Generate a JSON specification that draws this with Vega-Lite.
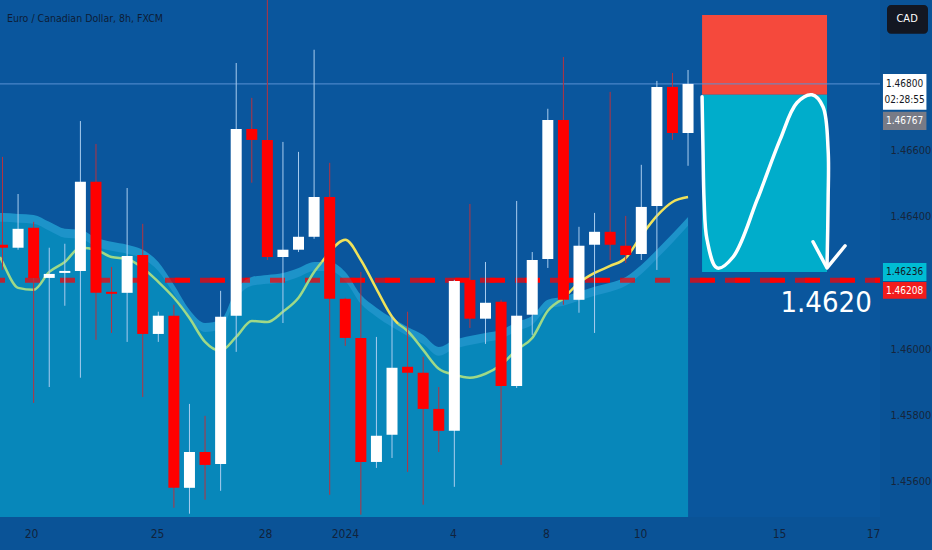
{
  "$schema": "https://vega.github.io/schema/vega-lite/v6.json",
  "width": 880,
  "height": 517,
  "autosize": {"type": "none"},
  "padding": {"left": 0, "top": 0, "right": 52, "bottom": 33},
  "background": "#0a5397",
  "datasets": {
    "candles": [
      {"i": 0, "o": 1.46315, "h": 1.46580, "l": 1.46239, "c": 1.46306},
      {"i": 1, "o": 1.46306, "h": 1.46468, "l": 1.46300, "c": 1.46363},
      {"i": 2, "o": 1.46366, "h": 1.46384, "l": 1.45838, "c": 1.46215},
      {"i": 3, "o": 1.46215, "h": 1.46306, "l": 1.45886, "c": 1.46227},
      {"i": 4, "o": 1.46230, "h": 1.46318, "l": 1.46131, "c": 1.46236},
      {"i": 5, "o": 1.46236, "h": 1.46688, "l": 1.45914, "c": 1.46505},
      {"i": 6, "o": 1.46505, "h": 1.46619, "l": 1.46028, "c": 1.46170},
      {"i": 7, "o": 1.46173, "h": 1.46248, "l": 1.46049, "c": 1.46167},
      {"i": 8, "o": 1.46170, "h": 1.46486, "l": 1.46022, "c": 1.46281},
      {"i": 9, "o": 1.46284, "h": 1.46378, "l": 1.45856, "c": 1.46046},
      {"i": 10, "o": 1.46046, "h": 1.46113, "l": 1.46022, "c": 1.46101},
      {"i": 11, "o": 1.46101, "h": 1.46134, "l": 1.45522, "c": 1.45582},
      {"i": 12, "o": 1.45582, "h": 1.45835, "l": 1.45504, "c": 1.45690},
      {"i": 13, "o": 1.45690, "h": 1.45799, "l": 1.45546, "c": 1.45651},
      {"i": 14, "o": 1.45654, "h": 1.46176, "l": 1.45573, "c": 1.46098},
      {"i": 15, "o": 1.46101, "h": 1.46863, "l": 1.45992, "c": 1.46664},
      {"i": 16, "o": 1.46664, "h": 1.46758, "l": 1.46502, "c": 1.46631},
      {"i": 17, "o": 1.46631, "h": 1.47053, "l": 1.46269, "c": 1.46278},
      {"i": 18, "o": 1.46278, "h": 1.46625, "l": 1.46079, "c": 1.46300},
      {"i": 19, "o": 1.46300, "h": 1.46595, "l": 1.46293, "c": 1.46339},
      {"i": 20, "o": 1.46339, "h": 1.46903, "l": 1.46333, "c": 1.46459},
      {"i": 21, "o": 1.46459, "h": 1.46562, "l": 1.45561, "c": 1.46152},
      {"i": 22, "o": 1.46152, "h": 1.46155, "l": 1.46010, "c": 1.46034},
      {"i": 23, "o": 1.46034, "h": 1.46233, "l": 1.45501, "c": 1.45660},
      {"i": 24, "o": 1.45660, "h": 1.46037, "l": 1.45642, "c": 1.45739},
      {"i": 25, "o": 1.45742, "h": 1.46098, "l": 1.45672, "c": 1.45944},
      {"i": 26, "o": 1.45947, "h": 1.46113, "l": 1.45630, "c": 1.45929},
      {"i": 27, "o": 1.45929, "h": 1.45977, "l": 1.45531, "c": 1.45820},
      {"i": 28, "o": 1.45820, "h": 1.45886, "l": 1.45690, "c": 1.45754},
      {"i": 29, "o": 1.45754, "h": 1.46209, "l": 1.45585, "c": 1.46206},
      {"i": 30, "o": 1.46209, "h": 1.46438, "l": 1.46064, "c": 1.46092},
      {"i": 31, "o": 1.46092, "h": 1.46263, "l": 1.46016, "c": 1.46140},
      {"i": 32, "o": 1.46143, "h": 1.46149, "l": 1.45651, "c": 1.45889},
      {"i": 33, "o": 1.45889, "h": 1.46447, "l": 1.45883, "c": 1.46101},
      {"i": 34, "o": 1.46104, "h": 1.46293, "l": 1.46043, "c": 1.46269},
      {"i": 35, "o": 1.46272, "h": 1.46725, "l": 1.46245, "c": 1.46691},
      {"i": 36, "o": 1.46691, "h": 1.46881, "l": 1.46134, "c": 1.46149},
      {"i": 37, "o": 1.46149, "h": 1.46369, "l": 1.46110, "c": 1.46312},
      {"i": 38, "o": 1.46315, "h": 1.46411, "l": 1.46049, "c": 1.46354},
      {"i": 39, "o": 1.46354, "h": 1.46776, "l": 1.46269, "c": 1.46315},
      {"i": 40, "o": 1.46312, "h": 1.46402, "l": 1.46260, "c": 1.46284},
      {"i": 41, "o": 1.46287, "h": 1.46556, "l": 1.46269, "c": 1.46429},
      {"i": 42, "o": 1.46432, "h": 1.46809, "l": 1.46239, "c": 1.46791},
      {"i": 43, "o": 1.46791, "h": 1.46833, "l": 1.46631, "c": 1.46652},
      {"i": 44, "o": 1.46652, "h": 1.46842, "l": 1.46553, "c": 1.46800}
    ],
    "cloud": [
      {"i": -0.16, "band": 1.46411, "fill": 1.46384},
      {"i": 0, "band": 1.46411, "fill": 1.46384},
      {"i": 1, "band": 1.46408, "fill": 1.46381},
      {"i": 2, "band": 1.46405, "fill": 1.46378},
      {"i": 3, "band": 1.46384, "fill": 1.46357},
      {"i": 4, "band": 1.46363, "fill": 1.46336},
      {"i": 5, "band": 1.46360, "fill": 1.46333},
      {"i": 6, "band": 1.46336, "fill": 1.46309},
      {"i": 7, "band": 1.46324, "fill": 1.46297},
      {"i": 8, "band": 1.46315, "fill": 1.46288},
      {"i": 9, "band": 1.46300, "fill": 1.46273},
      {"i": 10, "band": 1.46263, "fill": 1.46236},
      {"i": 11, "band": 1.46194, "fill": 1.46167},
      {"i": 12, "band": 1.46119, "fill": 1.46092},
      {"i": 13, "band": 1.46079, "fill": 1.46052},
      {"i": 14, "band": 1.46088, "fill": 1.46061},
      {"i": 15, "band": 1.46179, "fill": 1.46152},
      {"i": 16, "band": 1.46218, "fill": 1.46191},
      {"i": 17, "band": 1.46224, "fill": 1.46197},
      {"i": 18, "band": 1.46230, "fill": 1.46203},
      {"i": 19, "band": 1.46245, "fill": 1.46218},
      {"i": 20, "band": 1.46263, "fill": 1.46236},
      {"i": 21, "band": 1.46263, "fill": 1.46236},
      {"i": 22, "band": 1.46233, "fill": 1.46206},
      {"i": 23, "band": 1.46164, "fill": 1.46137},
      {"i": 24, "band": 1.46125, "fill": 1.46098},
      {"i": 25, "band": 1.46094, "fill": 1.46067},
      {"i": 26, "band": 1.46067, "fill": 1.46040},
      {"i": 27, "band": 1.46043, "fill": 1.46016},
      {"i": 28, "band": 1.46007, "fill": 1.45980},
      {"i": 29, "band": 1.46028, "fill": 1.46001},
      {"i": 30, "band": 1.46040, "fill": 1.46013},
      {"i": 31, "band": 1.46049, "fill": 1.46022},
      {"i": 32, "band": 1.46058, "fill": 1.46031},
      {"i": 33, "band": 1.46082, "fill": 1.46055},
      {"i": 34, "band": 1.46101, "fill": 1.46074},
      {"i": 35, "band": 1.46149, "fill": 1.46122},
      {"i": 36, "band": 1.46158, "fill": 1.46131},
      {"i": 37, "band": 1.46173, "fill": 1.46146},
      {"i": 38, "band": 1.46188, "fill": 1.46161},
      {"i": 39, "band": 1.46200, "fill": 1.46173},
      {"i": 40, "band": 1.46218, "fill": 1.46191},
      {"i": 41, "band": 1.46254, "fill": 1.46227},
      {"i": 42, "band": 1.46300, "fill": 1.46273},
      {"i": 43, "band": 1.46348, "fill": 1.46321},
      {"i": 44, "band": 1.46399, "fill": 1.46372}
    ],
    "ma": [
      {"i": -0.16, "ma": 1.46278, "seg": "g1"},
      {"i": 0, "ma": 1.46263, "seg": "g1"},
      {"i": 1, "ma": 1.46185, "seg": "g1"},
      {"i": 2, "ma": 1.46179, "seg": "g1"},
      {"i": 3, "ma": 1.46233, "seg": "g1"},
      {"i": 4, "ma": 1.46263, "seg": "g1"},
      {"i": 5, "ma": 1.46306, "seg": "g1"},
      {"i": 6, "ma": 1.46300, "seg": "g1"},
      {"i": 7, "ma": 1.46278, "seg": "g1"},
      {"i": 8, "ma": 1.46272, "seg": "g1"},
      {"i": 9, "ma": 1.46245, "seg": "g1"},
      {"i": 10, "ma": 1.46203, "seg": "g1"},
      {"i": 11, "ma": 1.46155, "seg": "g1"},
      {"i": 12, "ma": 1.46094, "seg": "g1"},
      {"i": 13, "ma": 1.46022, "seg": "g1"},
      {"i": 14, "ma": 1.45995, "seg": "g1"},
      {"i": 15, "ma": 1.46037, "seg": "g1"},
      {"i": 16, "ma": 1.46085, "seg": "g1"},
      {"i": 17, "ma": 1.46082, "seg": "g1"},
      {"i": 18, "ma": 1.46113, "seg": "g1"},
      {"i": 19, "ma": 1.46155, "seg": "g1"},
      {"i": 20, "ma": 1.46233, "seg": "g1"},
      {"i": 20.5, "ma": 1.46263, "seg": "g1"},
      {"i": 20.5, "ma": 1.46263, "seg": "y1"},
      {"i": 21, "ma": 1.46293, "seg": "y1"},
      {"i": 22, "ma": 1.46330, "seg": "y1"},
      {"i": 23, "ma": 1.46269, "seg": "y1"},
      {"i": 24, "ma": 1.46182, "seg": "y1"},
      {"i": 25, "ma": 1.46098, "seg": "y1"},
      {"i": 25.4, "ma": 1.46076, "seg": "y1"},
      {"i": 25.4, "ma": 1.46076, "seg": "g2"},
      {"i": 26, "ma": 1.46055, "seg": "g2"},
      {"i": 27, "ma": 1.45998, "seg": "g2"},
      {"i": 28, "ma": 1.45941, "seg": "g2"},
      {"i": 29, "ma": 1.45923, "seg": "g2"},
      {"i": 30, "ma": 1.45914, "seg": "g2"},
      {"i": 31, "ma": 1.45926, "seg": "g2"},
      {"i": 32, "ma": 1.45953, "seg": "g2"},
      {"i": 33, "ma": 1.45998, "seg": "g2"},
      {"i": 34, "ma": 1.46034, "seg": "g2"},
      {"i": 35, "ma": 1.46116, "seg": "g2"},
      {"i": 36, "ma": 1.46152, "seg": "g2"},
      {"i": 36, "ma": 1.46152, "seg": "y2"},
      {"i": 37, "ma": 1.46200, "seg": "y2"},
      {"i": 38, "ma": 1.46230, "seg": "y2"},
      {"i": 39, "ma": 1.46251, "seg": "y2"},
      {"i": 40, "ma": 1.46275, "seg": "y2"},
      {"i": 41, "ma": 1.46342, "seg": "y2"},
      {"i": 42, "ma": 1.46402, "seg": "y2"},
      {"i": 43, "ma": 1.46444, "seg": "y2"},
      {"i": 44, "ma": 1.46459, "seg": "y2"}
    ],
    "curve": [
      {"k": 0, "i": 44.90, "p": 1.46761},
      {"k": 1, "i": 44.96, "p": 1.46601},
      {"k": 2, "i": 45.03, "p": 1.46450},
      {"k": 3, "i": 45.22, "p": 1.46330},
      {"k": 4, "i": 45.86, "p": 1.46245},
      {"k": 5, "i": 46.89, "p": 1.46278},
      {"k": 6, "i": 48.43, "p": 1.46450},
      {"k": 7, "i": 49.90, "p": 1.46631},
      {"k": 8, "i": 50.99, "p": 1.46743},
      {"k": 9, "i": 51.96, "p": 1.46767},
      {"k": 10, "i": 52.66, "p": 1.46731},
      {"k": 11, "i": 52.99, "p": 1.46601},
      {"k": 12, "i": 52.99, "p": 1.46450},
      {"k": 13, "i": 52.92, "p": 1.46248}
    ],
    "arrow": [
      {"k": 0, "i": 52.02, "p": 1.46324},
      {"k": 1, "i": 52.92, "p": 1.46245},
      {"k": 2, "i": 54.08, "p": 1.46312}
    ],
    "tags": [
      {"kind": "last", "top": 1.46830, "bot": 1.46722},
      {"kind": "prev", "top": 1.46716, "bot": 1.46661},
      {"kind": "ma", "top": 1.46260, "bot": 1.46206},
      {"kind": "level", "top": 1.46203, "bot": 1.46152}
    ],
    "tagText": [
      {"kind": "last", "label": "1.46800", "p": 1.46800},
      {"kind": "clock", "label": "02:28:55", "p": 1.46752},
      {"kind": "prev", "label": "1.46767", "p": 1.46688},
      {"kind": "ma", "label": "1.46236", "p": 1.46233},
      {"kind": "level", "label": "1.46208", "p": 1.46177}
    ]
  },
  "encoding": {
    "x": {"type": "quantitative"},
    "y": {"type": "quantitative"}
  },
  "layer": [
    {
      "data": {"values": [{"p": 1.46208}]},
      "mark": {"type": "rule", "color": "#ff0000", "strokeWidth": 5, "strokeDash": [15, 20]},
      "encoding": {
        "x": {"datum": -0.16, "type": "quantitative",
          "scale": {"domain": [-0.16, 56.32], "nice": false, "zero": false, "padding": 0},
          "axis": {
            "values": [1.83, 9.92, 16.85, 21.98, 28.91, 34.88, 40.92, 49.84, 55.87],
            "labelExpr": "datum.value < 5 ? '20' : datum.value < 12 ? '25' : datum.value < 19 ? '28' : datum.value < 25 ? '2024' : datum.value < 31 ? '4' : datum.value < 37 ? '8' : datum.value < 45 ? '10' : datum.value < 52 ? '15' : '17'",
            "title": null, "grid": false, "domain": false, "ticks": false,
            "labelPadding": 11, "labelFontSize": 12, "labelColor": "#11233d",
            "labelFont": "DejaVu Sans Condensed, Roboto, sans-serif"
          }
        },
        "x2": {"datum": 56.32},
        "y": {"field": "p", "type": "quantitative",
          "scale": {"domain": [1.45494, 1.47053], "nice": false, "zero": false, "padding": 0},
          "axis": {
            "orient": "right",
            "values": [1.456, 1.458, 1.46, 1.464, 1.466],
            "format": ".5f",
            "title": null, "grid": false, "domain": false, "ticks": false,
            "labelPadding": 10, "labelFontSize": 11, "labelColor": "#16263c",
            "labelFont": "DejaVu Sans Condensed, Roboto, sans-serif"
          }
        }
      }
    },
    {
      "data": {"name": "cloud"},
      "mark": {"type": "area", "color": "#1d93c9", "interpolate": "monotone"},
      "encoding": {
        "x": {"field": "i", "type": "quantitative"},
        "y": {"field": "band", "type": "quantitative"},
        "y2": {"datum": 1.45494}
      }
    },
    {
      "data": {"name": "cloud"},
      "mark": {"type": "area", "color": "#0787ba", "interpolate": "monotone"},
      "encoding": {
        "x": {"field": "i", "type": "quantitative"},
        "y": {"field": "fill", "type": "quantitative"},
        "y2": {"datum": 1.45494}
      }
    },
    {
      "data": {"values": [{"p": 1.46208}]},
      "mark": {"type": "rule", "color": "#ff0000", "opacity": 0.72, "strokeWidth": 5, "strokeDash": [15, 20]},
      "encoding": {"y": {"field": "p", "type": "quantitative"}}
    },
    {
      "data": {"values": [{"top": 1.47008, "bot": 1.46767, "zone": "stop"}, {"top": 1.46767, "bot": 1.46233, "zone": "target"}]},
      "mark": {"type": "rect"},
      "encoding": {
        "x": {"datum": 44.9},
        "x2": {"datum": 52.92},
        "y": {"field": "top", "type": "quantitative"},
        "y2": {"field": "bot"},
        "color": {"field": "zone", "type": "nominal", "legend": null,
          "scale": {"domain": ["stop", "target"], "range": ["#f5493c", "#00adcb"]}}
      }
    },
    {
      "data": {"values": [{"p": 1.468}]},
      "mark": {"type": "rule", "color": "#5a92d4", "strokeWidth": 1},
      "encoding": {"y": {"field": "p", "type": "quantitative"}}
    },
    {
      "data": {"name": "ma"},
      "mark": {"type": "line", "strokeWidth": 2.5, "interpolate": "monotone"},
      "encoding": {
        "x": {"field": "i", "type": "quantitative"},
        "y": {"field": "ma", "type": "quantitative"},
        "color": {"field": "seg", "type": "nominal", "legend": null,
          "scale": {"domain": ["g1", "y1", "g2", "y2"], "range": ["#9fd987", "#f0e25a", "#9fd987", "#f0e25a"]}}
      }
    },
    {
      "data": {"name": "candles"},
      "mark": {"type": "rule", "strokeWidth": 1},
      "encoding": {
        "x": {"field": "i", "type": "quantitative"},
        "y": {"field": "l", "type": "quantitative"},
        "y2": {"field": "h"},
        "color": {"condition": {"test": "datum.c >= datum.o", "value": "#a9cdef"}, "value": "#b8323f"}
      }
    },
    {
      "data": {"name": "candles"},
      "mark": {"type": "bar", "size": 11},
      "encoding": {
        "x": {"field": "i", "type": "quantitative"},
        "y": {"field": "o", "type": "quantitative"},
        "y2": {"field": "c"},
        "color": {"condition": {"test": "datum.c >= datum.o", "value": "#ffffff"}, "value": "#ff0000"}
      }
    },
    {
      "data": {"name": "curve"},
      "mark": {"type": "line", "color": "#ffffff", "strokeWidth": 3.5, "interpolate": "catmull-rom", "strokeCap": "round"},
      "encoding": {
        "x": {"field": "i", "type": "quantitative"},
        "y": {"field": "p", "type": "quantitative"},
        "order": {"field": "k"}
      }
    },
    {
      "data": {"name": "arrow"},
      "mark": {"type": "line", "color": "#ffffff", "strokeWidth": 3.5, "strokeCap": "round", "strokeJoin": "round"},
      "encoding": {
        "x": {"field": "i", "type": "quantitative"},
        "y": {"field": "p", "type": "quantitative"},
        "order": {"field": "k"}
      }
    },
    {
      "data": {"values": [{"label": "1.4620", "p": 1.46140}]},
      "mark": {"type": "text", "color": "#ffffff", "fontSize": 29, "font": "DejaVu Sans Condensed, Roboto, sans-serif", "align": "center", "baseline": "middle"},
      "encoding": {
        "x": {"datum": 52.86},
        "y": {"field": "p", "type": "quantitative"},
        "text": {"field": "label"}
      }
    },
    {
      "data": {"values": [{"label": "Euro / Canadian Dollar, 8h, FXCM", "p": 1.46996}]},
      "mark": {"type": "text", "color": "#0d1d36", "fontSize": 10.5, "font": "DejaVu Sans Condensed, Roboto, sans-serif", "align": "left", "baseline": "middle"},
      "encoding": {
        "x": {"datum": 0.29},
        "y": {"field": "p", "type": "quantitative"},
        "text": {"field": "label"}
      }
    },
    {
      "data": {"values": [{"top": 1.47038, "bot": 1.46951}]},
      "mark": {"type": "rect", "color": "#131722", "cornerRadius": 4},
      "encoding": {
        "x": {"datum": 56.77},
        "x2": {"datum": 59.4},
        "y": {"field": "top", "type": "quantitative"},
        "y2": {"field": "bot"}
      }
    },
    {
      "data": {"values": [{"label": "CAD", "p": 1.46996}]},
      "mark": {"type": "text", "color": "#ffffff", "fontSize": 11, "font": "DejaVu Sans Condensed, Roboto, sans-serif", "align": "center", "baseline": "middle"},
      "encoding": {
        "x": {"datum": 58.06},
        "y": {"field": "p", "type": "quantitative"},
        "text": {"field": "label"}
      }
    },
    {
      "data": {"name": "tags"},
      "mark": {"type": "rect"},
      "encoding": {
        "x": {"datum": 56.51},
        "x2": {"datum": 59.3},
        "y": {"field": "top", "type": "quantitative"},
        "y2": {"field": "bot"},
        "color": {"field": "kind", "type": "nominal", "legend": null,
          "scale": {"domain": ["last", "prev", "ma", "level"], "range": ["#ffffff", "#787b86", "#00bcd4", "#f21c1c"]}}
      }
    },
    {
      "data": {"name": "tagText"},
      "mark": {"type": "text", "fontSize": 10, "font": "DejaVu Sans Condensed, Roboto, sans-serif", "align": "center", "baseline": "middle"},
      "encoding": {
        "x": {"datum": 57.9},
        "y": {"field": "p", "type": "quantitative"},
        "text": {"field": "label"},
        "color": {"field": "kind", "type": "nominal", "legend": null,
          "scale": {"domain": ["last", "clock", "prev", "ma", "level"], "range": ["#131722", "#131722", "#ffffff", "#131722", "#ffffff"]}},
        "fontWeight": {"condition": {"test": "datum.kind === 'last'", "value": "bold"}, "value": "normal"}
      }
    }
  ],
  "resolve": {"scale": {"color": "independent"}},
  "config": {
    "view": {"stroke": null, "fill": "#0a569d"},
    "font": "DejaVu Sans Condensed, Roboto, sans-serif"
  }
}
